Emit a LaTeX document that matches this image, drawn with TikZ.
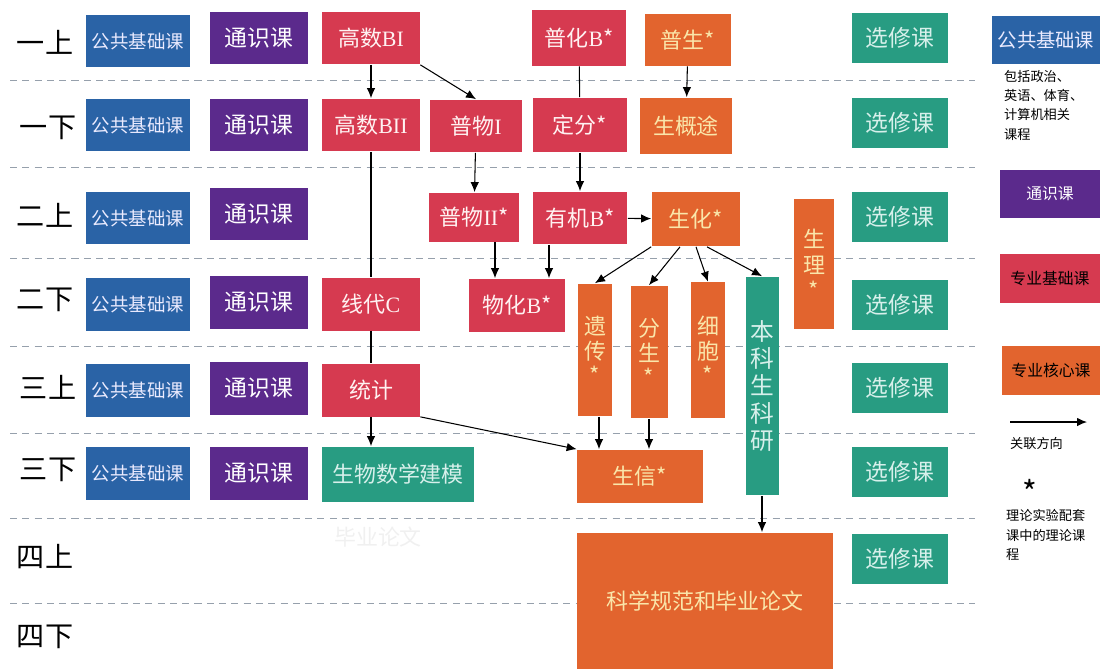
\documentclass[tikz,border=0pt]{standalone}
\usepackage{fontspec}
\setmainfont{Noto Sans CJK SC}
\newfontfamily\rom{Liberation Serif}
\usetikzlibrary{positioning,arrows.meta}
\definecolor{pubblue}{RGB}{42,99,166}
\definecolor{genpurple}{RGB}{91,42,140}
\definecolor{basered}{RGB}{214,58,80}
\definecolor{coreorange}{RGB}{226,100,46}
\definecolor{resteal}{RGB}{40,156,130}
\definecolor{coretext}{RGB}{250,230,170}
\definecolor{restext}{RGB}{215,240,235}
\definecolor{sepgray}{RGB}{150,160,172}

\begin{document}
\begin{tikzpicture}[x=0.02cm,y=-0.02cm,
course/.style={rectangle,inner sep=0pt,align=center,
  font=\fontsize{12.5}{14}\selectfont},
pubc/.style={course,fill=pubblue,text=white!92!blue,minimum width=2.08cm,minimum height=1.06cm,
  font=\fontsize{10.5}{13}\selectfont},
genc/.style={course,fill=genpurple,text=white,minimum width=1.96cm,minimum height=1.06cm,
  font=\fontsize{13}{15}\selectfont},
elecc/.style={course,fill=resteal,text=restext,minimum width=1.92cm,minimum height=1cm,
  font=\fontsize{13}{15}\selectfont},
basec/.style={course,fill=basered,text=white!95!red},
corec/.style={course,fill=coreorange,text=coretext},
resc/.style={course,fill=resteal,text=restext}]

\tikzset{
  term/.style={font=\fontsize{16}{18}\selectfont},
  legtext/.style={align=left,anchor=west,font=\fontsize{7.5}{11}\selectfont},
  sep/.style={sepgray,dash pattern=on 4pt off 3pt,line width=0.5pt},
  every edge/.append style={line width=0.6pt,-{Latex[length=2mm,width=1.7mm]}}
}

\useasboundingbox (0,0) rectangle (1100,670);

% semester lines
\foreach \y in {80,167,258,346,433,518,603}
  \draw[sep] (10,\y) -- (975,\y);

% semesters
\node[term] at (45,42) (t1) {一上};
\node[term] at (48,128) (t2) {一下};
\node[term] at (45,215) (t3) {二上};
\node[term] at (45,300) (t4) {二下};
\node[term] at (48,387) (t5) {三上};
\node[term] at (48,470) (t6) {三下};
\node[term] at (45,557) (t7) {四上};
\node[term] at (45,637) (t8) {四下};

% public and general courses
\node[pubc] at (138,41) (pub1) {公共基础课};
\node[pubc] at (138,125) (pub2) {公共基础课};
\node[pubc] at (138,218) (pub3) {公共基础课};
\node[pubc] at (138,304) (pub4) {公共基础课};
\node[pubc] at (138,390) (pub5) {公共基础课};
\node[pubc] at (138,473) (pub6) {公共基础课};

\node[genc] at (259,38) (gen1) {通识课};
\node[genc] at (259,125) (gen2) {通识课};
\node[genc] at (259,214) (gen3) {通识课};
\node[genc] at (259,302) (gen4) {通识课};
\node[genc] at (259,388) (gen5) {通识课};
\node[genc] at (259,473) (gen6) {通识课};

\node[elecc] at (900,38) (ele1) {选修课};
\node[elecc] at (900,123) (ele2) {选修课};
\node[elecc] at (900,217) (ele3) {选修课};
\node[elecc] at (900,305) (ele4) {选修课};
\node[elecc] at (900,388) (ele5) {选修课};
\node[elecc] at (900,472) (ele6) {选修课};
\node[elecc] at (900,559) (ele7) {选修课};

% math line
\node[basec,minimum width=1.96cm,minimum height=1.06cm] at (371,38) (gsB1) {高数{\rom BI}};
\node[basec,minimum width=1.96cm,minimum height=1.06cm] at (371,125) (gsB2) {高数{\rom BII}};
\node[basec,minimum width=1.96cm,minimum height=1.06cm] at (371,304) (xdC) {线代{\rom C}};
\node[basec,minimum width=1.96cm,minimum height=1.06cm] at (371,390) (tj) {统计};
\node[resc,minimum width=3.04cm,minimum height=1.1cm] at (398,474) (swsx) {生物数学建模};
\node[text=gray!12,font=\fontsize{12.5}{14}\selectfont] at (378,537) (ghost) {毕业论文};

% physics and chemistry
\node[basec,minimum width=1.84cm,minimum height=1.06cm] at (476,126) (pw1) {普物{\rom I}};
\node[basec,minimum width=1.82cm,minimum height=0.98cm] at (474,217) (pw2) {普物{\rom II}*};
\node[basec,minimum width=1.88cm,minimum height=1.12cm] at (579,38) (phB) {普化{\rom B}*};
\node[basec,minimum width=1.88cm,minimum height=1.1cm] at (580,125) (df) {定分*};
\node[basec,minimum width=1.9cm,minimum height=1.06cm] at (580,218) (yjB) {有机{\rom B}*};
\node[basec,minimum width=1.92cm,minimum height=1.06cm] at (517,305) (whB) {物化{\rom B}*};

% biology core
\node[corec,minimum width=1.74cm,minimum height=1.04cm] at (688,40) (ps) {普生*};
\node[corec,minimum width=1.84cm,minimum height=1.14cm] at (686,126) (sgt) {生概途};
\node[corec,minimum width=1.78cm,minimum height=1.1cm] at (696,219) (sh) {生化*};
\node[corec,minimum width=0.8cm,minimum height=2.62cm,font=\fontsize{12.5}{14.5}\selectfont] at (814,264) (sl) {生\\理\\*};
\node[corec,minimum width=0.68cm,minimum height=2.66cm,font=\fontsize{12.5}{14}\selectfont] at (595,350) (yc) {遗\\传\\*};
\node[corec,minimum width=0.74cm,minimum height=2.66cm,font=\fontsize{12.5}{14}\selectfont] at (649,352) (fs) {分\\生\\*};
\node[corec,minimum width=0.68cm,minimum height=2.72cm,font=\fontsize{12.5}{14}\selectfont] at (708,350) (xb) {细\\胞\\*};
\node[resc,minimum width=0.66cm,minimum height=4.38cm,font=\fontsize{13.5}{15.5}\selectfont] at (762,386) (bkky) {本\\科\\生\\科\\研};
\node[corec,minimum width=2.52cm,minimum height=1.06cm] at (640,476) (sx) {生信*};
\node[corec,minimum width=5.14cm,minimum height=2.74cm] at (705,601) (kxgf) {科学规范和毕业论文};

% legend
\node[pubc,minimum width=2.16cm,minimum height=0.96cm,font=\fontsize{11}{13}\selectfont] at (1046,40) (lpub) {公共基础课};
\node[legtext] at (998,105) (lpubt) {包括政治、\\英语、体育、\\计算机相关\\课程};
\node[genc,minimum width=2cm,minimum height=0.96cm,font=\fontsize{9}{11}\selectfont] at (1050,194) (lgen) {通识课};
\node[basec,minimum width=2cm,minimum height=0.98cm,text=black,font=\fontsize{9}{11}\selectfont] at (1050,278) (lbase) {专业基础课};
\node[corec,minimum width=1.96cm,minimum height=0.98cm,text=black,font=\fontsize{9}{11}\selectfont] at (1051,370) (lcore) {专业核心课};
\coordinate (la) at (1010,422);
\coordinate (lb) at (1087,422);
\node[legtext] at (1004,443) (ldir) {关联方向};
\node[inner sep=0pt,font=\fontsize{18}{18}\selectfont] at (1030,492) (lstar) {*};
\node[legtext] at (1000,535) (lstart) {理论实验配套\\课中的理论课\\程};

\draw
    (la) edge (lb)
    (gsB1) edge (gsB2)
    (gsB2) edge[-] (xdC)
    (xdC) edge[-] (tj)
    (tj.south) edge (tj.south |- swsx.north)
    (gsB1.south east) edge (pw1.north)
    (phB) edge[-] (df)
    (df) edge (yjB)
    (pw1) edge (pw2)
    (ps) edge (sgt)
    (yjB) edge (sh)
    ([xshift=0.42cm]pw2.south) edge ([xshift=0.42cm]pw2.south |- whB.north)
    ([xshift=-0.62cm]yjB.south) edge ([xshift=-0.62cm]yjB.south |- whB.north)
    (sh.south west) edge (yc.north)
    ([xshift=-0.32cm]sh.south) edge (fs.north)
    (sh.south) edge (xb.north)
    ([xshift=0.22cm]sh.south) edge (bkky.north)
    ([xshift=0.08cm]yc.south) edge ([xshift=0.08cm]yc.south |- sx.north)
    (fs.south) edge (fs.south |- sx.north)
    (tj.south east) edge (sx.north west)
    (bkky.south) edge (bkky.south |- kxgf.north);

\end{tikzpicture}
\end{document}
